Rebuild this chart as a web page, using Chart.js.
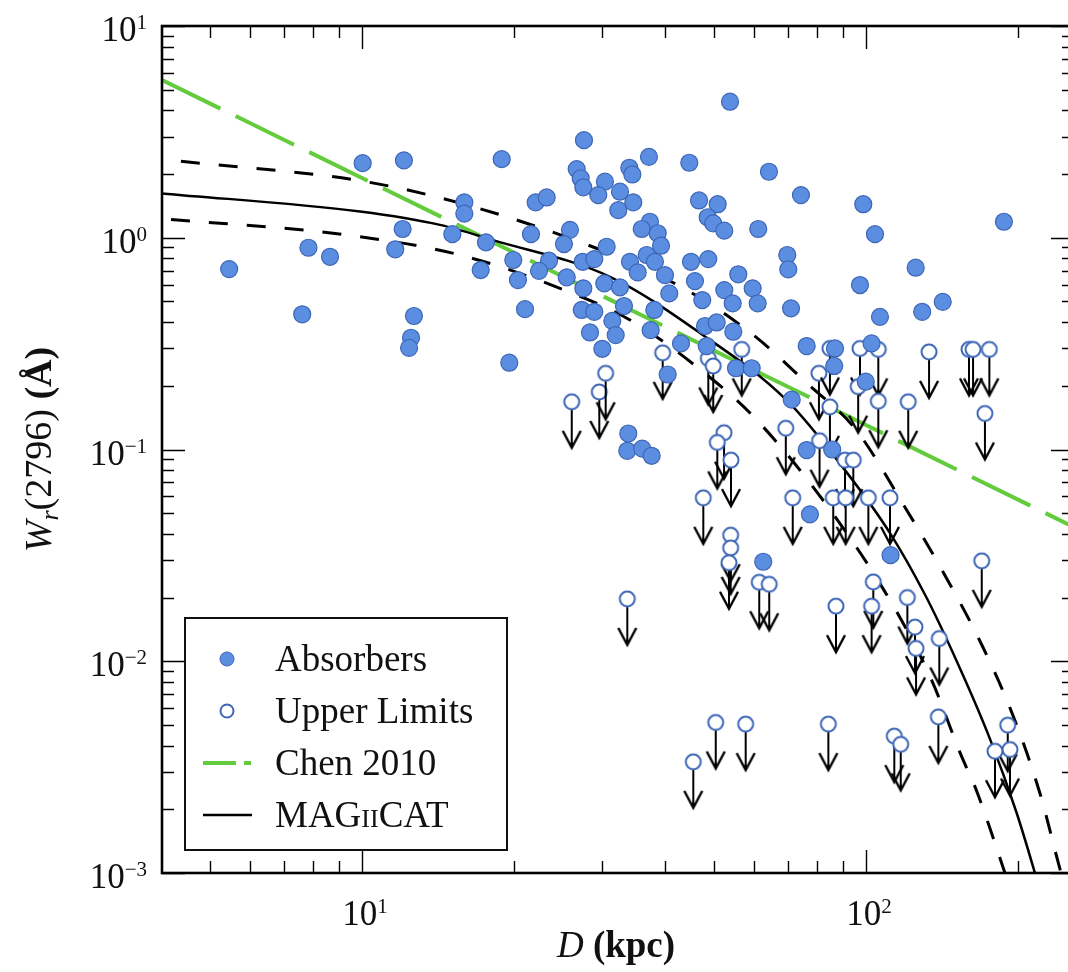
<!DOCTYPE html>
<html>
<head>
<meta charset="utf-8">
<script src="https://cdn.jsdelivr.net/npm/chart.js@4.4.1/dist/chart.umd.min.js"></script>
<style>
  html, body { margin: 0; padding: 0; background: #fff; overflow: hidden; }
  #wrap { width: 1068px; height: 972px; overflow: hidden; }
</style>
</head>
<body>
<div id="wrap"><canvas id="wChart" width="1080" height="972"></canvas></div>
<script>
// Absorbers: impact parameter D (kpc) and Wr(2796) (Angstrom)
const absD = [5.45, 7.83, 8.64, 7.61, 10.03, 12.11, 12.04, 11.64, 12.68, 12.51, 12.40, 15.96, 15.96, 15.11, 17.62, 17.20,
  18.93, 19.96, 20.39, 21.06, 19.60, 27.57, 26.67, 27.16, 27.49, 30.34, 29.43, 22.11, 23.25, 21.64, 25.86, 25.16,
  23.50, 22.45, 25.48, 27.41, 28.90, 27.49, 27.29, 28.90, 28.34, 29.98, 30.58, 30.25,
  53.73, 37.10, 44.61, 33.92, 34.39, 64.19, 32.50, 34.54, 32.25, 46.64, 50.79, 74.30, 98.77, 104.2, 48.52, 49.77,
  52.34, 61.13, 37.27, 35.89, 38.61, 39.20, 36.72, 38.13, 34.02, 35.24, 39.92, 44.96, 48.65, 45.78, 55.80, 69.80,
  70.12, 97.3, 32.50, 40.71, 47.33, 52.34, 54.39, 59.59, 60.97, 71.0, 106.6, 33.10, 38.02, 31.38, 31.87, 37.39,
  47.93, 50.55, 54.54, 42.95, 48.30, 40.41, 55.22, 59.32, 71.22, 76.27, 86.8, 86.5, 102.6, 99.9,
  33.76, 33.60, 35.98, 37.56, 76.27, 85.7, 77.4, 62.54, 111.9, 125.5, 129.3, 142.0, 187.8];
const absW = [0.711, 0.897, 0.813, 0.435, 2.25, 2.32, 1.10, 0.882, 0.427, 0.337, 0.302, 1.47, 1.30, 1.04, 0.951, 0.704,
  2.35, 0.785, 0.631, 0.460, 0.257, 2.89, 2.11, 1.91, 1.73, 1.84, 1.59, 1.47, 1.55, 1.04, 1.09, 0.934,
  0.779, 0.698, 0.650, 0.770, 0.793, 0.577, 0.456, 0.447, 0.357, 0.299, 0.907, 0.609,
  4.39, 2.41, 2.26, 2.14, 1.99, 2.05, 1.65, 1.47, 1.35, 1.50, 1.44, 1.59, 1.44, 1.04, 1.25, 1.17,
  1.08, 1.10, 1.19, 1.10, 1.05, 0.917, 0.829, 0.770, 0.770, 0.686, 0.666, 0.770, 0.793, 0.624, 0.672, 0.829,
  0.709, 0.598, 0.583, 0.546, 0.508, 0.566, 0.490, 0.577, 0.490, 0.464, 0.423, 0.476, 0.456, 0.405, 0.347, 0.366,
  0.383, 0.398, 0.360, 0.317, 0.308, 0.226, 0.242, 0.242, 0.172, 0.308, 0.300, 0.248, 0.317, 0.209,
  0.119, 0.0986, 0.101, 0.0934, 0.0994, 0.100, 0.0494, 0.0295, 0.0317, 0.722, 0.447, 0.498, 1.19];

// Upper limits (non-detections)
const limD = [26.07, 29.57, 30.44, 39.50, 48.65, 49.77, 56.68, 80.66, 84.82, 97.3, 105.8, 84.82, 96.5, 105.8,
  52.28, 50.70, 69.33, 80.88, 133.4, 160.1, 163.1, 175.7, 121.3, 172.2, 53.97, 90.85, 94.37,
  47.55, 71.55, 86.1, 91.15, 101.1, 111.6, 53.89, 53.89, 53.48, 61.41, 64.28, 33.60, 87.2,
  50.33, 57.71, 84.2, 45.43, 169.7, 103.4, 102.6, 120.8, 125.1, 125.7, 139.8, 139.2, 113.8, 117.2,
  191.1, 180.3, 193.1];
const limW = [0.168, 0.187, 0.229, 0.286, 0.269, 0.248, 0.297, 0.229, 0.300, 0.300, 0.297, 0.159, 0.198, 0.169,
  0.120, 0.108, 0.126, 0.110, 0.289, 0.297, 0.297, 0.297, 0.168, 0.148, 0.0891, 0.0891, 0.0891,
  0.0591, 0.0591, 0.0591, 0.0591, 0.0591, 0.0591, 0.0394, 0.0343, 0.0292, 0.0236, 0.0231, 0.0197, 0.0182,
  0.00514, 0.00505, 0.00505, 0.00335, 0.0298, 0.0237, 0.0182, 0.0200, 0.0145, 0.0115, 0.0128, 0.00546, 0.00443, 0.00405,
  0.00499, 0.00376, 0.00383];

// Chen 2010 relation (straight line in log-log)
const chenD = [4.01, 10, 30, 100, 258.7];
const chenW = [5.56, 1.915, 0.531, 0.1305, 0.0430];

// MAGIICAT fit and its dashed envelope
const magD = [4.01, 9.91, 14.28, 18.2, 31.05, 46.83, 69.6, 90.85, 111.6, 131, 151.4, 176.2, 199.1, 216.4, 230];
const magW = [1.62, 1.33, 1.15, 0.975, 0.654, 0.355, 0.171, 0.0799, 0.0403, 0.0206, 0.0100, 0.0043, 0.00192, 0.001, 0.0006];
const upD = [4.01, 11.52, 27.5, 44.1, 59.8, 76.3, 95.5, 119.5, 143.4, 169.9, 194.9, 221.4, 243.8, 258];
const upW = [2.35, 1.74, 0.941, 0.566, 0.347, 0.206, 0.124, 0.0534, 0.0255, 0.0119, 0.00569, 0.00238, 0.001, 0.00063];
const loD = [4.01, 9.32, 15.65, 24.71, 34.02, 46.14, 60.69, 87.6, 115.1, 135, 154.2, 165.8, 188.7, 200];
const loW = [1.23, 1.03, 0.829, 0.577, 0.409, 0.246, 0.138, 0.0468, 0.0171, 0.00814, 0.00363, 0.00244, 0.001, 0.00066];

// Axis tick labels
const xTickVals = [10, 100];
const xTickExp = ['1', '2'];
const yTickVals = [0.001, 0.01, 0.1, 1, 10];
const yTickExp = ['\u22123', '\u22122', '\u22121', '0', '1'];

const SERIF = '"Liberation Serif", "Times New Roman", serif';
const BLUE = '#5b8ee1';
const BLUE_EDGE = '#3d66b6';
const GREEN = '#62cc3c';

function toPoints(xs, ys) {
  return xs.map((v, i) => ({ x: v, y: ys[i] }));
}

// open circle with a downward arrow, used as point style for the limits
function makeLimitMarker() {
  const c = document.createElement('canvas');
  c.width = 26;
  c.height = 100;
  const g = c.getContext('2d');
  const cx = 13, cy = 50;
  g.strokeStyle = '#000';
  g.lineWidth = 2;
  g.beginPath();
  g.moveTo(cx, cy + 8);
  g.lineTo(cx, cy + 45);
  g.stroke();
  g.lineWidth = 2.4;
  g.beginPath();
  g.moveTo(cx - 9, cy + 29);
  g.lineTo(cx, cy + 46);
  g.lineTo(cx + 9, cy + 29);
  g.stroke();
  g.beginPath();
  g.arc(cx, cy, 7.5, 0, Math.PI * 2);
  g.fillStyle = '#fff';
  g.fill();
  g.lineWidth = 2;
  g.strokeStyle = BLUE_EDGE;
  g.stroke();
  return c;
}

// draw a run of text pieces with different fonts on one baseline
function drawParts(c, parts, x, y, align) {
  let total = 0;
  parts.forEach(p => { c.font = p.font; p.w = c.measureText(p.text).width; total += p.w; });
  let cx = align === 'center' ? x - total / 2 : (align === 'right' ? x - total : x);
  c.textAlign = 'left';
  parts.forEach(p => { c.font = p.font; c.fillText(p.text, cx, y + (p.dy || 0)); cx += p.w; });
}

// frame, inward ticks, tick labels, axis titles and the legend box
const framePlugin = {
  id: 'frame',
  afterDatasetsDraw(chart) {
    const c = chart.ctx;
    const a = chart.chartArea;
    const xs = chart.scales.x;
    const ys = chart.scales.y;
    c.save();
    c.strokeStyle = '#000';
    c.fillStyle = '#000';

    // x ticks (bottom and top)
    c.lineWidth = 1.4;
    for (let e = 0; e <= 2; e++) {
      for (let m = 1; m <= 9; m++) {
        const v = m * Math.pow(10, e);
        if (v < xs.min || v > xs.max) continue;
        const px = Math.round(xs.getPixelForValue(v)) + 0.5;
        const len = m === 1 ? 23 : 12;
        c.beginPath();
        c.moveTo(px, a.bottom); c.lineTo(px, a.bottom - len);
        c.moveTo(px, a.top); c.lineTo(px, a.top + len);
        c.stroke();
      }
    }
    // y ticks (left and right)
    for (let e = -3; e <= 1; e++) {
      for (let m = 1; m <= 9; m++) {
        const v = m * Math.pow(10, e);
        if (v < ys.min * 0.999 || v > ys.max * 1.001) continue;
        const py = Math.round(ys.getPixelForValue(v)) + 0.5;
        const len = m === 1 ? 23 : 12;
        c.beginPath();
        c.moveTo(a.left, py); c.lineTo(a.left + len, py);
        c.moveTo(a.right, py); c.lineTo(a.right - len, py);
        c.stroke();
      }
    }

    // spines
    c.lineWidth = 2.6;
    c.strokeRect(a.left, a.top, a.right - a.left, a.bottom - a.top);

    // tick labels
    c.fillStyle = '#111';
    c.textBaseline = 'alphabetic';
    yTickVals.forEach((v, i) => {
      const py = ys.getPixelForValue(v);
      drawParts(c, [
        { text: '10', font: '35px ' + SERIF },
        { text: yTickExp[i], font: '21px ' + SERIF, dy: -12 }
      ], 147, py + 15, 'right');
    });
    xTickVals.forEach((v, i) => {
      const px = xs.getPixelForValue(v);
      drawParts(c, [
        { text: '10', font: '35px ' + SERIF },
        { text: xTickExp[i], font: '21px ' + SERIF, dy: -12 }
      ], px + 3, 925, 'center');
    });

    // axis titles
    drawParts(c, [
      { text: 'D', font: 'italic 37px ' + SERIF },
      { text: ' (kpc)', font: 'bold 37px ' + SERIF }
    ], 616, 957, 'center');

    c.save();
    c.translate(38, (a.top + a.bottom) / 2);
    c.rotate(-Math.PI / 2);
    drawParts(c, [
      { text: 'W', font: 'italic 38px ' + SERIF },
      { text: 'r', font: 'italic 26px ' + SERIF, dy: 7 },
      { text: '(2796) ', font: '38px ' + SERIF },
      { text: '(\u00C5)', font: 'bold 38px ' + SERIF }
    ], 0, 13, 'center');
    c.restore();

    // legend
    c.fillStyle = '#fff';
    c.fillRect(185, 618, 322, 232);
    c.lineWidth = 2;
    c.strokeStyle = '#111';
    c.strokeRect(185, 618, 322, 232);

    c.beginPath();
    c.arc(227, 659, 7, 0, Math.PI * 2);
    c.fillStyle = BLUE;
    c.fill();
    c.lineWidth = 1;
    c.strokeStyle = BLUE_EDGE;
    c.stroke();

    c.beginPath();
    c.arc(227, 711, 6.5, 0, Math.PI * 2);
    c.fillStyle = '#fff';
    c.fill();
    c.lineWidth = 2;
    c.stroke();

    c.beginPath();
    c.setLineDash([33, 8]);
    c.strokeStyle = GREEN;
    c.lineWidth = 4;
    c.moveTo(203, 763); c.lineTo(251, 763);
    c.stroke();
    c.setLineDash([]);

    c.beginPath();
    c.strokeStyle = '#000';
    c.lineWidth = 2.5;
    c.moveTo(203, 815); c.lineTo(252, 815);
    c.stroke();

    c.fillStyle = '#111';
    drawParts(c, [{ text: 'Absorbers', font: '37px ' + SERIF }], 275, 671, 'left');
    drawParts(c, [{ text: 'Upper Limits', font: '37px ' + SERIF }], 275, 723, 'left');
    drawParts(c, [{ text: 'Chen 2010', font: '37px ' + SERIF }], 275, 775, 'left');
    drawParts(c, [
      { text: 'MAG', font: '37px ' + SERIF },
      { text: 'II', font: '26px ' + SERIF },
      { text: 'CAT', font: '37px ' + SERIF }
    ], 275, 827, 'left');

    c.restore();
  }
};

document.addEventListener('DOMContentLoaded', function () {
  const ctx = document.getElementById('wChart').getContext('2d');
  const limitMarker = makeLimitMarker();

  new Chart(ctx, {
    type: 'scatter',
    data: {
      datasets: [
        {
          label: 'Absorbers',
          data: toPoints(absD, absW),
          pointRadius: 8.5,
          pointBackgroundColor: BLUE,
          pointBorderColor: BLUE_EDGE,
          pointBorderWidth: 1.2,
          order: 0
        },
        {
          label: 'Upper Limits',
          data: toPoints(limD, limW),
          pointStyle: limitMarker,
          pointRadius: 8,
          order: 1
        },
        {
          type: 'line',
          label: 'Chen 2010',
          data: toPoints(chenD, chenW),
          borderColor: GREEN,
          borderWidth: 4,
          borderDash: [65, 17],
          pointRadius: 0,
          fill: false,
          order: 3
        },
        {
          type: 'line',
          label: 'MAGIICAT',
          data: toPoints(magD, magW),
          borderColor: '#000',
          borderWidth: 2.5,
          cubicInterpolationMode: 'monotone',
          pointRadius: 0,
          fill: false,
          order: 2
        },
        {
          type: 'line',
          label: 'upper envelope',
          data: toPoints(upD, upW),
          borderColor: '#000',
          borderWidth: 3,
          borderDash: [19, 19],
          borderDashOffset: 19,
          cubicInterpolationMode: 'monotone',
          pointRadius: 0,
          fill: false,
          order: 2
        },
        {
          type: 'line',
          label: 'lower envelope',
          data: toPoints(loD, loW),
          borderColor: '#000',
          borderWidth: 3,
          borderDash: [19, 19],
          borderDashOffset: 29,
          cubicInterpolationMode: 'monotone',
          pointRadius: 0,
          fill: false,
          order: 2
        }
      ]
    },
    options: {
      responsive: false,
      animation: false,
      layout: { padding: { left: 0, top: 26, right: 6, bottom: 0 }, autoPadding: false },
      plugins: {
        legend: { display: false },
        tooltip: { enabled: false }
      },
      scales: {
        x: {
          type: 'logarithmic',
          min: 4.01,
          max: 258.7,
          grid: { display: false },
          border: { display: false },
          ticks: { display: false },
          afterFit: function (s) { s.height = 99; }
        },
        y: {
          type: 'logarithmic',
          min: 0.001,
          max: 10,
          grid: { display: false },
          border: { display: false },
          ticks: { display: false },
          afterFit: function (s) { s.width = 162; }
        }
      }
    },
    plugins: [framePlugin]
  });
});
</script>
</body>
</html>
